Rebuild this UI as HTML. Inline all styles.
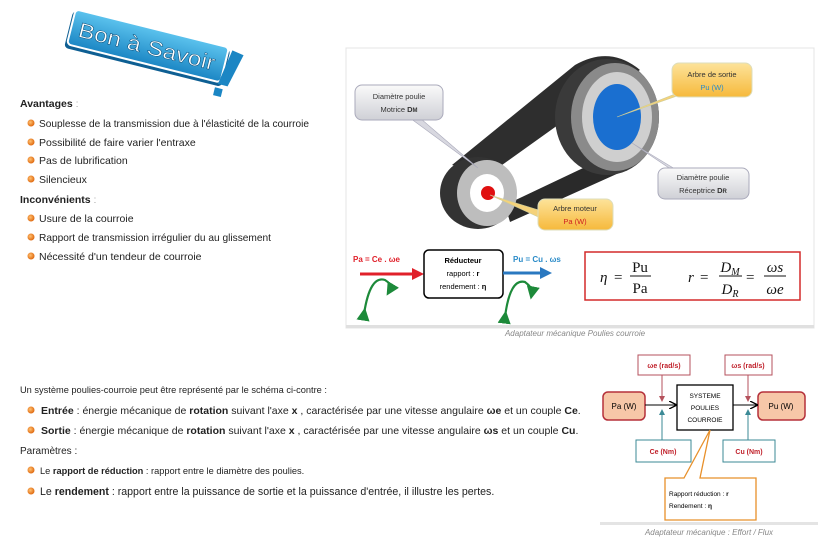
<!DOCTYPE html>
<html><head><meta charset="utf-8"><style>
html,body{margin:0;padding:0;background:#fff;}
svg{display:block;font-family:"Liberation Sans",Arial,sans-serif;}
</style></head><body>
<svg width="838" height="543" viewBox="0 0 838 543" xmlns="http://www.w3.org/2000/svg">
<defs>
<linearGradient id="bn" x1="0" y1="0" x2="0" y2="1"><stop offset="0" stop-color="#5cc3ee"/><stop offset="1" stop-color="#1b86c4"/></linearGradient>
<radialGradient id="bul" cx="0.4" cy="0.4" r="0.6"><stop offset="0" stop-color="#ffc070"/><stop offset="1" stop-color="#e06a10"/></radialGradient>
<linearGradient id="yel" x1="0" y1="0" x2="0" y2="1"><stop offset="0" stop-color="#fde39a"/><stop offset="1" stop-color="#f6b93b"/></linearGradient>
<linearGradient id="gry" x1="0" y1="0" x2="0" y2="1"><stop offset="0" stop-color="#fafafa"/><stop offset="1" stop-color="#cfd0d6"/></linearGradient>
<marker id="ah" markerWidth="8" markerHeight="8" refX="7" refY="4" orient="auto"><path d="M0,0 L8,4 L0,8" fill="none" stroke="#000" stroke-width="1.3"/></marker>
<marker id="ahr" markerWidth="6" markerHeight="6" refX="5" refY="3" orient="auto"><path d="M0,0 L6,3 L0,6z" fill="#b5525c"/></marker>
<marker id="aht" markerWidth="6" markerHeight="6" refX="5" refY="3" orient="auto"><path d="M0,0 L6,3 L0,6z" fill="#3b8a96"/></marker>
<marker id="ahg" markerWidth="6" markerHeight="6" refX="3" refY="3" orient="auto"><path d="M0,0 L6,3 L0,6z" fill="#1d8a3a"/></marker>
</defs>

<!-- Bon a savoir badge -->
<g transform="translate(148,50) rotate(14)">
<rect x="-82" y="-20" width="162" height="38" rx="4" fill="#0e5f93"/>
<rect x="-80" y="-22" width="158" height="36" rx="4" fill="url(#bn)" stroke="#fff" stroke-width="2"/>
<text x="-2" y="4" text-anchor="middle" font-size="21" fill="#fff" stroke="#0b4f7a" stroke-width="0.5" textLength="140" lengthAdjust="spacingAndGlyphs">Bon à Savoir</text>
<path d="M82,-20 L94,-18 L86,16 L76,16z" fill="#1b86c4"/>
<rect x="74" y="20" width="8" height="8" fill="#1b86c4"/>
</g>

<!-- left lists -->
<g font-size="10.5" fill="#222">
<text x="20" y="107" font-weight="bold">Avantages <tspan font-weight="normal" fill="#aaa">:</tspan></text>
<text x="39" y="127" textLength="270" lengthAdjust="spacingAndGlyphs">Souplesse de la transmission due à l'élasticité de la courroie</text>
<text x="39" y="146">Possibilité de faire varier l'entraxe</text>
<text x="39" y="164">Pas de lubrification</text>
<text x="39" y="183">Silencieux</text>
<text x="20" y="203" font-weight="bold">Inconvénients <tspan font-weight="normal" fill="#aaa">:</tspan></text>
<text x="39" y="222">Usure de la courroie</text>
<text x="39" y="241" textLength="232" lengthAdjust="spacingAndGlyphs">Rapport de transmission irrégulier du au glissement</text>
<text x="39" y="260">Nécessité d'un tendeur de courroie</text>
</g>
<g fill="url(#bul)">
<circle cx="31" cy="123" r="3.5"/><circle cx="31" cy="142" r="3.5"/><circle cx="31" cy="160" r="3.5"/><circle cx="31" cy="179" r="3.5"/>
<circle cx="31" cy="218" r="3.5"/><circle cx="31" cy="237" r="3.5"/><circle cx="31" cy="256" r="3.5"/>
</g>

<!-- top image panel -->
<rect x="346" y="48" width="468" height="280" fill="#fff" stroke="#e4e4e4"/>
<rect x="346" y="325" width="468" height="3" fill="#e0e0e0"/>
<!-- belt -->
<path d="M452,165 L575,65 Q610,45 640,70 L600,95 L488,175z" fill="#2e2e2e"/>
<path d="M505,205 L600,160 L630,168 L510,222z" fill="#2a2a2a"/>
<!-- large pulley -->
<ellipse cx="607" cy="117" rx="52" ry="58" fill="#3a3a3a"/>
<ellipse cx="615" cy="117" rx="44" ry="54" fill="#8a8a8a"/>
<ellipse cx="617" cy="117" rx="35" ry="45" fill="#cfcfcf"/>
<ellipse cx="617" cy="117" rx="24" ry="33" fill="#1a6fd0"/>
<!-- small pulley -->
<ellipse cx="478" cy="193" rx="38" ry="36" fill="#333"/>
<ellipse cx="487" cy="193" rx="30" ry="33" fill="#bdbdbd"/>
<ellipse cx="487" cy="193" rx="17" ry="19" fill="#fff"/>
<circle cx="488" cy="193" r="7" fill="#e01010"/>
<!-- callout pointers -->
<path d="M410,118 L420,118 L478,168z" fill="#d8d8e0" stroke="#aab" stroke-width="0.6"/>
<path d="M690,88 L700,88 L617,117z" fill="#f5d27a" stroke="#cc9" stroke-width="0.6"/>
<path d="M672,170 L680,172 L632,143z" fill="#d8d8e0" stroke="#aab" stroke-width="0.6"/>
<path d="M545,212 L545,220 L490,195z" fill="#f5d27a" stroke="#cc9" stroke-width="0.6"/>
<!-- callouts -->
<rect x="355" y="85" width="88" height="35" rx="7" fill="url(#gry)" stroke="#aab" />
<text x="399" y="99" font-size="7.5" text-anchor="middle" fill="#333">Diamètre poulie</text>
<text x="399" y="112" font-size="7.5" text-anchor="middle" fill="#333">Motrice <tspan font-weight="bold">D<tspan font-size="6">M</tspan></tspan></text>
<rect x="672" y="63" width="80" height="34" rx="7" fill="url(#yel)" stroke="#ddb" />
<text x="712" y="77" font-size="7.5" text-anchor="middle" fill="#333">Arbre de sortie</text>
<text x="712" y="90" font-size="7.5" text-anchor="middle" fill="#2a8bc8">Pu (W)</text>
<rect x="658" y="168" width="91" height="31" rx="7" fill="url(#gry)" stroke="#aab"/>
<text x="703" y="180" font-size="7.5" text-anchor="middle" fill="#333">Diamètre poulie</text>
<text x="703" y="193" font-size="7.5" text-anchor="middle" fill="#333">Réceptrice <tspan font-weight="bold">D<tspan font-size="6">R</tspan></tspan></text>
<rect x="538" y="199" width="75" height="31" rx="7" fill="url(#yel)" stroke="#ddb"/>
<text x="575" y="211" font-size="7.5" text-anchor="middle" fill="#333">Arbre moteur</text>
<text x="575" y="224" font-size="7.5" text-anchor="middle" fill="#d02020">Pa (W)</text>
<!-- bottom of image -->
<text x="353" y="262" font-size="8" font-weight="bold" fill="#e0202a">Pa = Ce . ωe</text>
<line x1="360" y1="274" x2="414" y2="274" stroke="#e0202a" stroke-width="3"/>
<path d="M412,268 L424,274 L412,280z" fill="#e0202a"/>
<rect x="424" y="250" width="79" height="48" rx="5" fill="#fff" stroke="#000" stroke-width="1.5"/>
<text x="463" y="263" font-size="7.5" text-anchor="middle" font-weight="bold">Réducteur</text>
<text x="463" y="276" font-size="7.5" text-anchor="middle">rapport : <tspan font-weight="bold">r</tspan></text>
<text x="463" y="289" font-size="7.5" text-anchor="middle">rendement : <tspan font-weight="bold">η</tspan></text>
<text x="513" y="262" font-size="8" font-weight="bold" fill="#2a8bc8">Pu = Cu . ωs</text>
<line x1="503" y1="273" x2="542" y2="273" stroke="#2a78c0" stroke-width="3"/>
<path d="M540,267 L552,273 L540,279z" fill="#2a78c0"/>
<path d="M364,314 Q370,275 385,280 Q393,285 390,290" fill="none" stroke="#1d8a3a" stroke-width="2.2" marker-end="url(#ahg)" marker-start="url(#ahg)"/>
<path d="M505,317 Q510,278 525,282 Q533,288 532,293" fill="none" stroke="#1d8a3a" stroke-width="2.2" marker-end="url(#ahg)" marker-start="url(#ahg)"/>
<rect x="585" y="252" width="215" height="48" fill="#fff" stroke="#d42a2a" stroke-width="1.5"/>
<g font-family="Liberation Serif,serif" font-size="15" fill="#111">
<text x="600" y="282" font-style="italic">η</text><text x="614" y="282">=</text>
<text x="640" y="272" text-anchor="middle">Pu</text><line x1="630" y1="276" x2="651" y2="276" stroke="#111"/><text x="640" y="293" text-anchor="middle">Pa</text>
<text x="688" y="282" font-style="italic">r</text><text x="700" y="282">=</text>
<text x="730" y="272" text-anchor="middle" font-style="italic">D<tspan font-size="10" dy="3">M</tspan></text><line x1="719" y1="276" x2="742" y2="276" stroke="#111"/><text x="730" y="294" text-anchor="middle" font-style="italic">D<tspan font-size="10" dy="3">R</tspan></text>
<text x="746" y="282">=</text>
<text x="775" y="272" text-anchor="middle" font-style="italic">ωs</text><line x1="764" y1="276" x2="786" y2="276" stroke="#111"/><text x="775" y="294" text-anchor="middle" font-style="italic">ωe</text>
</g>
<text x="575" y="336" font-size="8" font-style="italic" fill="#888" text-anchor="middle">Adaptateur mécanique Poulies courroie</text>

<!-- bottom text -->
<g font-size="10.5" fill="#222">
<text x="20" y="393" font-size="9.25">Un système poulies-courroie peut être représenté par le schéma ci-contre :</text>
<text x="41" y="414"><tspan font-weight="bold">Entrée</tspan> : énergie mécanique de <tspan font-weight="bold">rotation</tspan> suivant l'axe <tspan font-weight="bold">x</tspan> , caractérisée par une vitesse angulaire <tspan font-weight="bold">ωe</tspan> et un couple <tspan font-weight="bold">Ce</tspan>.</text>
<text x="41" y="434"><tspan font-weight="bold">Sortie</tspan> : énergie mécanique de <tspan font-weight="bold">rotation</tspan> suivant l'axe <tspan font-weight="bold">x</tspan> , caractérisée par une vitesse angulaire <tspan font-weight="bold">ωs</tspan> et un couple <tspan font-weight="bold">Cu</tspan>.</text>
<text x="20" y="454" font-size="10">Paramètres :</text>
<text x="40" y="474" font-size="9.25">Le <tspan font-weight="bold">rapport de réduction</tspan> : rapport entre le diamètre des poulies.</text>
<text x="40" y="495" font-size="10.6">Le <tspan font-weight="bold">rendement</tspan> : rapport entre la puissance de sortie et la puissance d'entrée, il illustre les pertes.</text>
</g>
<g fill="url(#bul)">
<circle cx="31" cy="410" r="3.5"/><circle cx="31" cy="430" r="3.5"/><circle cx="31" cy="470" r="3.5"/><circle cx="31" cy="491" r="3.5"/>
</g>

<!-- bottom-right diagram -->
<rect x="600" y="346" width="218" height="178" fill="#fff"/>
<rect x="600" y="522" width="218" height="3" fill="#e4e4e4"/>
<rect x="638" y="355" width="52" height="20" fill="#fff" stroke="#b5525c"/>
<text x="664" y="368" font-size="7" text-anchor="middle" fill="#c0202a" font-weight="bold">ωe (rad/s)</text>
<rect x="725" y="355" width="47" height="20" fill="#fff" stroke="#b5525c"/>
<text x="748" y="368" font-size="7" text-anchor="middle" fill="#c0202a" font-weight="bold">ωs (rad/s)</text>
<rect x="603" y="392" width="42" height="28" rx="5" fill="#f7c7a8" stroke="#b5303a" stroke-width="1.5"/>
<text x="624" y="409" font-size="8" text-anchor="middle">Pa (W)</text>
<rect x="758" y="392" width="47" height="28" rx="5" fill="#f7c7a8" stroke="#b5303a" stroke-width="1.5"/>
<text x="781" y="409" font-size="8" text-anchor="middle">Pu (W)</text>
<rect x="677" y="385" width="56" height="45" fill="#fff" stroke="#000" stroke-width="1.3"/>
<text x="705" y="398" font-size="6.5" text-anchor="middle">SYSTEME</text>
<text x="705" y="410" font-size="6.5" text-anchor="middle">POULIES</text>
<text x="705" y="422" font-size="6.5" text-anchor="middle">COURROIE</text>
<line x1="645" y1="405" x2="676" y2="405" stroke="#000" marker-end="url(#ah)"/>
<line x1="733" y1="405" x2="757" y2="405" stroke="#000" marker-end="url(#ah)"/>
<line x1="662" y1="375" x2="662" y2="401" stroke="#b5525c" marker-end="url(#ahr)"/>
<line x1="748" y1="375" x2="748" y2="401" stroke="#b5525c" marker-end="url(#ahr)"/>
<line x1="662" y1="440" x2="662" y2="410" stroke="#3b8a96" marker-end="url(#aht)"/>
<line x1="748" y1="440" x2="748" y2="410" stroke="#3b8a96" marker-end="url(#aht)"/>
<rect x="636" y="440" width="55" height="22" fill="#fff" stroke="#3b8a96"/>
<text x="663" y="454" font-size="7" text-anchor="middle" fill="#c0202a" font-weight="bold">Ce (Nm)</text>
<rect x="723" y="440" width="52" height="22" fill="#fff" stroke="#3b8a96"/>
<text x="749" y="454" font-size="7" text-anchor="middle" fill="#c0202a" font-weight="bold">Cu (Nm)</text>
<path d="M665,478 L665,520 L756,520 L756,478 L700,478 L710,430 L684,478z" fill="#fff" stroke="#e8902a" stroke-width="1.3"/>
<text x="669" y="496" font-size="6.5">Rapport réduction : <tspan font-weight="bold">r</tspan></text>
<text x="669" y="508" font-size="6.5">Rendement : <tspan font-weight="bold">η</tspan></text>
<text x="709" y="535" font-size="8" font-style="italic" fill="#888" text-anchor="middle">Adaptateur mécanique : Effort / Flux</text>
</svg>
</body></html>
